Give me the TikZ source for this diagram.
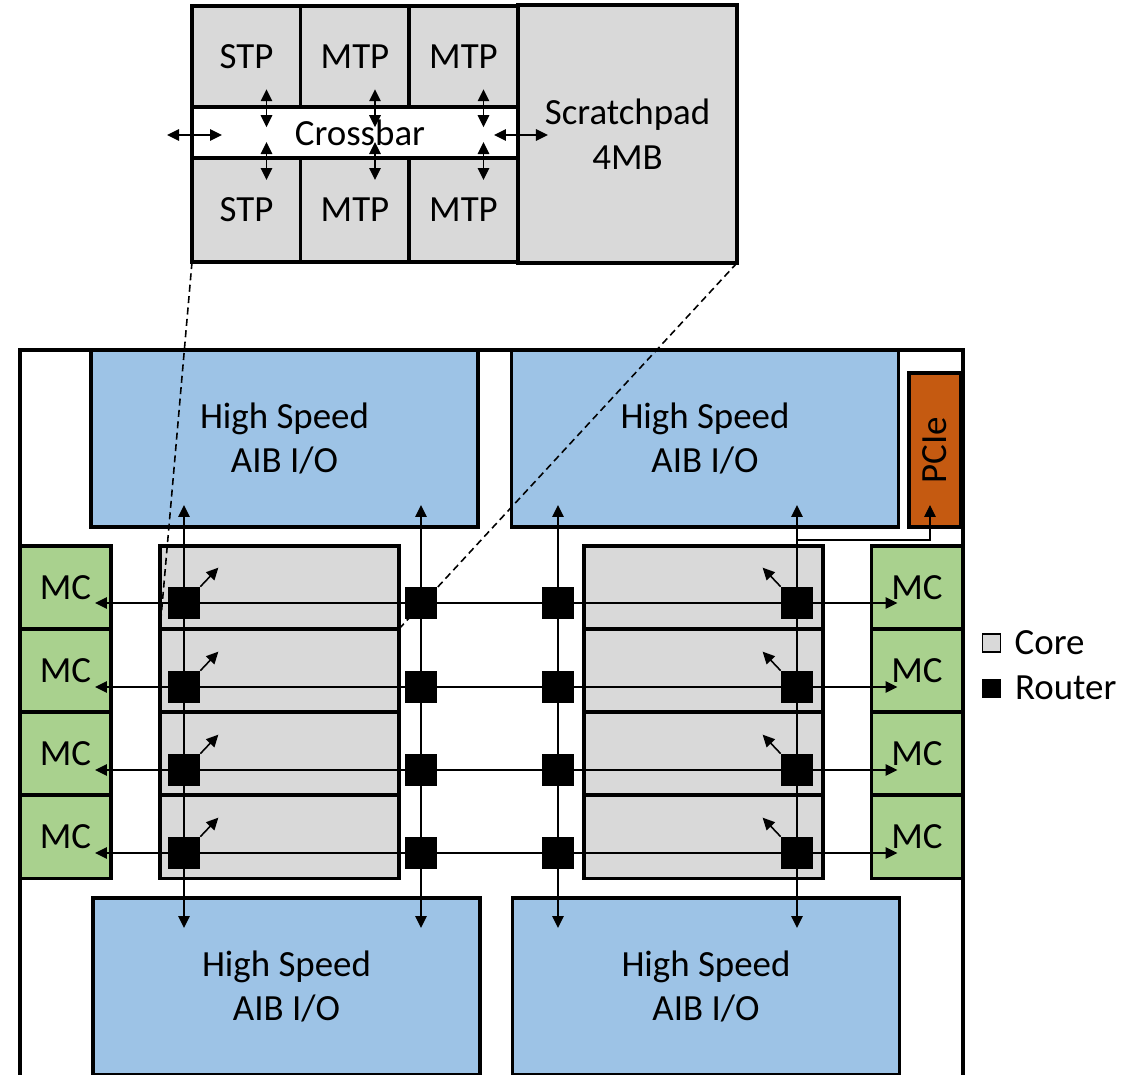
\documentclass[tikz,border=0pt]{standalone}
\usepackage{fontspec}
\setmainfont{Carlito}
\usepackage{tikz}
\usetikzlibrary{arrows.meta,positioning,calc}

\definecolor{aibblue}{HTML}{9DC3E6}
\definecolor{mcgreen}{HTML}{A9D18E}
\definecolor{coregray}{HTML}{D9D9D9}
\definecolor{pcieorange}{HTML}{C55A11}

\begin{document}
\begin{tikzpicture}[
x=0.02cm, y=-0.02cm,
font=\fontsize{21}{25.5}\selectfont,
>={Triangle[length=2.4mm,width=2.3mm]},
box/.style={draw, line width=2pt, inner sep=0pt, outer sep=0pt, align=center},
aib/.style={box, fill=aibblue, minimum width=7.74cm, minimum height=3.54cm},
mc/.style={box, fill=mcgreen, minimum width=1.82cm, minimum height=1.66cm},
core/.style={box, fill=coregray, minimum width=4.78cm, minimum height=1.66cm},
tp/.style={box, fill=coregray, minimum width=2.18cm, minimum height=2.05cm},
router/.style={fill=black, minimum size=0.64cm, inner sep=0pt},
link/.style={line width=0.9pt},
zoomline/.style={dashed, dash pattern=on 4pt off 2.5pt, line width=0.9pt}
]
\useasboundingbox (0,0) rectangle (1140,1075);

% chip outline
\draw[line width=2pt] (20,1085) |- (963,350) -- (963,1085);

% I/O blocks
\node[aib] (aibTL) at (284.5,438.5) {High Speed\\AIB I/O};
\node[aib] (aibTR) at (705,438.5) {High Speed\\AIB I/O};
\node[aib] (aibBL) at (286.5,986.5) {High Speed\\AIB I/O};
\node[aib] (aibBR) at (706,986.5) {High Speed\\AIB I/O};
\node[box, fill=pcieorange, rotate=90, minimum width=3.08cm, minimum height=1.04cm] (pcie) at (935,450) {PCIe};

% memory controllers and cores
\foreach \i/\y in {1/587.5, 2/670.5, 3/753.5, 4/837} {
  \node[mc] (mcL\i) at (65.5,\y) {MC};
  \node[mc] (mcR\i) at (917,\y) {MC};
  \node[core] (coreL\i) at (279.5,\y) {};
  \node[core] (coreR\i) at (703.5,\y) {};
}

% routers
\foreach \i/\y in {1/603, 2/687, 3/770, 4/853}
  \foreach \c/\x in {a/184, b/421, c/558, d/797}
    \node[router] (r\c\i) at (\x,\y) {};

% zoomed tile
\node[tp] (stpT) at (246.5,57) {STP};
\node[tp] (mtpT1) at (355,57) {MTP};
\node[tp] (mtpT2) at (463.5,57) {MTP};
\node[box, fill=white, minimum width=6.52cm, minimum height=1.02cm] (xbar) at (355,132.5) {\hspace*{0.2cm}Crossbar};
\node[tp, minimum height=2.08cm] (stpB) at (246.5,210) {STP};
\node[tp, minimum height=2.08cm] (mtpB1) at (355,210) {MTP};
\node[tp, minimum height=2.08cm] (mtpB2) at (463.5,210) {MTP};
\node[box, fill=coregray, minimum width=4.38cm, minimum height=5.16cm] (scratch) at (627.5,134) {Scratchpad\\4MB};

\foreach \n in {stpT, mtpT1, mtpT2}
  \draw[<->, link] ($(\n.south)+(20,-19)$) -- ($(\n.south)+(20,19)$);
\foreach \n in {stpB, mtpB1, mtpB2}
  \draw[<->, link] ($(\n.north)+(20,-16)$) -- ($(\n.north)+(20,22)$);
\draw[<->, link] ($(xbar.west)+(-25,2.5)$) -- ($(xbar.west)+(30,2.5)$);
\draw[<->, link] ($(xbar.east)+(-24,2.5)$) -- ($(xbar.east)+(30,2.5)$);

\draw[zoomline] (stpB.south west) -- (coreL1.south west);
\draw[zoomline] (scratch.south east) -- (coreL1.south east);

% network links
\foreach \c/\t/\b in {a/aibTL/aibBL, b/aibTL/aibBL, c/aibTR/aibBR, d/aibTR/aibBR}
  \draw[<->, link] ($(r\c1 |- \t.south)+(0,-22)$) -- ($(r\c4 |- \b.north)+(0,30)$);
\foreach \i in {1,...,4} {
  \draw[<->, link] ($(mcL\i.east |- ra\i)+(-16,0)$) -- ($(mcR\i.west |- rd\i)+(26,0)$);
  \draw[->, link] (ra\i.north east) -- ++(18,-19);
  \draw[->, link] (rd\i.north west) -- ++(-18,-19);
}
\draw[->, line width=0.6pt] ($(rd1 |- aibTR.south)+(0,13)$) -| ($(pcie.west)+(-5,-22)$);

% legend
\node[draw, fill=coregray, line width=0.6pt, minimum size=0.36cm, inner sep=0pt] (lgcore) at (991.5,643) {};
\node[right=0.15cm of lgcore] (lgcoretxt) {Core};
\node[fill=black, minimum size=0.38cm, inner sep=0pt] (lgrouter) at (991.5,688) {};
\node[right=0.15cm of lgrouter] (lgroutertxt) {Router};
\end{tikzpicture}
\end{document}
